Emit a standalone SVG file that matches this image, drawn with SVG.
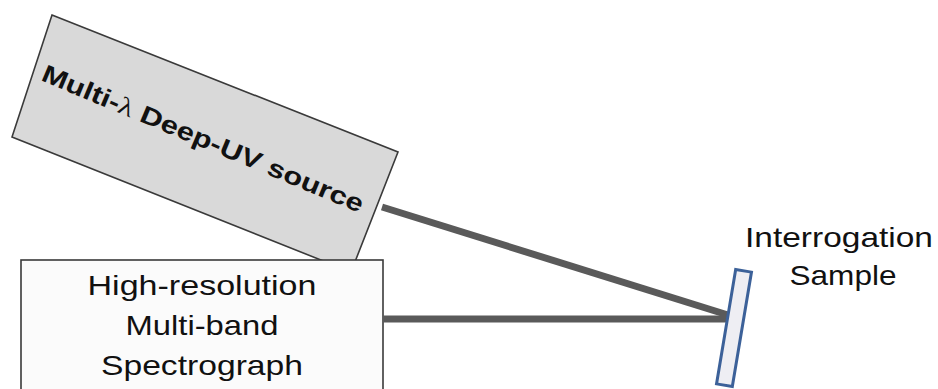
<svg xmlns="http://www.w3.org/2000/svg" width="938" height="389" viewBox="0 0 938 389">
  <style>
    .box { stroke: #3a3a3a; stroke-width: 1.6; }
    .label { font-family: "Liberation Sans", Arial, sans-serif; font-size: 28px; fill: #111; text-anchor: middle; }
    .beam { stroke: #5a5a5a; stroke-width: 7; stroke-linecap: butt; fill: none; }
  </style>
  <rect width="938" height="389" fill="#ffffff"/>

  <!-- light source, tilted -->
  <g id="source">
    <polygon class="box" points="52,15 398,152 351,272 12,137" fill="#d9d9d9"/>
    <text x="40" y="80" transform="rotate(22.6 40 80)" font-family="Liberation Sans, Arial, sans-serif" font-size="25" font-weight="bold" fill="#111" textLength="346" lengthAdjust="spacingAndGlyphs">Multi-<tspan font-family="Liberation Serif, serif" font-weight="normal">λ</tspan> Deep-UV source</text>
  </g>

  <!-- detector -->
  <g id="spectrograph">
    <rect class="box" x="21" y="260" width="362" height="140" fill="#fbfbfb"/>
    <text class="label" x="202" y="295" textLength="229" lengthAdjust="spacingAndGlyphs">High-resolution</text>
    <text class="label" x="202" y="335" textLength="153" lengthAdjust="spacingAndGlyphs">Multi-band</text>
    <text class="label" x="202" y="375" textLength="202" lengthAdjust="spacingAndGlyphs">Spectrograph</text>
  </g>

  <!-- optical paths -->
  <g id="connectors">
    <line class="beam" x1="382" y1="207" x2="728" y2="315"/>
    <line class="beam" x1="383" y1="319" x2="728" y2="319"/>
  </g>

  <!-- sample slide -->
  <g id="sample">
    <rect x="-8" y="-58" width="16" height="116" transform="translate(734,328) rotate(9.5)" fill="#eeeef3" stroke="#3c6199" stroke-width="3"/>
    <text class="label" x="839" y="247" textLength="188" lengthAdjust="spacingAndGlyphs">Interrogation</text>
    <text class="label" x="843" y="285" textLength="107" lengthAdjust="spacingAndGlyphs">Sample</text>
  </g>
</svg>
